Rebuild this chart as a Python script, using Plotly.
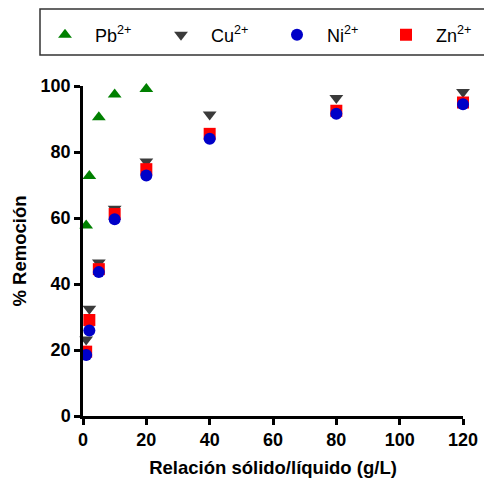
import plotly.graph_objects as go

x_vals = [1, 2, 5, 10, 20, 40, 80, 120]
x_pb = [1, 2, 5, 10, 20]
pb = [57.7, 72.7, 90.5, 97.4, 99.1]
cu = [23.2, 32.5, 46.5, 62.8, 77.1, 91.4, 96.4, 98.2]
zn = [19.5, 29.1, 44.5, 61.2, 74.8, 85.5, 92.5, 95.0]
ni = [18.5, 25.9, 43.6, 59.6, 72.9, 84.0, 91.6, 94.5]

W, H = 484, 478
ml, mr, mt, mb = 83, 21, 86, 62
PW, PH = W - ml - mr, H - mt - mb

def px_x(p):
    return (p - ml) / PW

def px_y(p):
    return 1 + (mt - p) / PH

# (name, x, y, symbol, colour, legend id, legend symbol centre px)
series = [
    ("Pb<sup>2+</sup>", x_pb, pb, "triangle-up", "#008000", "legend", 65),
    ("Cu<sup>2+</sup>", x_vals, cu, "triangle-down", "#3a3a3a", "legend2", 181),
    ("Zn<sup>2+</sup>", x_vals, zn, "square", "#ff0000", "legend4", 406),
    ("Ni<sup>2+</sup>", x_vals, ni, "circle", "#0000c8", "legend3", 297),
]

fig = go.Figure()
legends = {}
for name, xs, ys, sym, col, leg, sx in series:
    fig.add_trace(go.Scatter(
        x=xs, y=ys, mode="markers", name=name, legend=leg,
        marker=dict(symbol=sym, color=col, size=12, line=dict(width=0)),
        cliponaxis=False,
    ))
    legends[leg] = dict(
        orientation="h", xref="container", yref="container",
        x=(sx - 30) / W, y=1 - 35 / H,
        xanchor="left", yanchor="middle",
        font=dict(size=18, color="black"),
        itemwidth=50,
        bgcolor="rgba(0,0,0,0)", borderwidth=0,
    )

fig.update_layout(
    width=W, height=H,
    margin=dict(l=ml, r=mr, t=mt, b=mb, autoexpand=False),
    paper_bgcolor="white", plot_bgcolor="white",
    font=dict(family="Liberation Sans, Arial, sans-serif", color="black"),
    showlegend=True,
    xaxis=dict(
        range=[0, 120], tickvals=[0, 20, 40, 60, 80, 100, 120],
        showline=True, linecolor="black", linewidth=2.5,
        ticks="outside", ticklen=6, tickwidth=2.5, tickcolor="black",
        showgrid=False, zeroline=False, automargin=False,
        tickfont=dict(size=18, weight="bold"),
        title=dict(text="Relación sólido/líquido (g/L)", font=dict(size=18.5, weight="bold"), standoff=12),
    ),
    yaxis=dict(
        range=[0, 100], tickvals=[0, 20, 40, 60, 80, 100],
        showline=True, linecolor="black", linewidth=2.5,
        ticks="outside", ticklen=6, tickwidth=2.5, tickcolor="black",
        showgrid=False, zeroline=False, automargin=False,
        tickfont=dict(size=18, weight="bold"),
        title=dict(text="% Remoción", font=dict(size=18.5, weight="bold"), standoff=10),
    ),
    shapes=[dict(type="rect", xref="paper", yref="paper",
                 x0=px_x(40), x1=px_x(500),
                 y0=px_y(55), y1=px_y(9),
                 line=dict(color="#333333", width=1.5), fillcolor="rgba(0,0,0,0)", layer="above")],
    **legends,
)
fig.write_html("out.html")
